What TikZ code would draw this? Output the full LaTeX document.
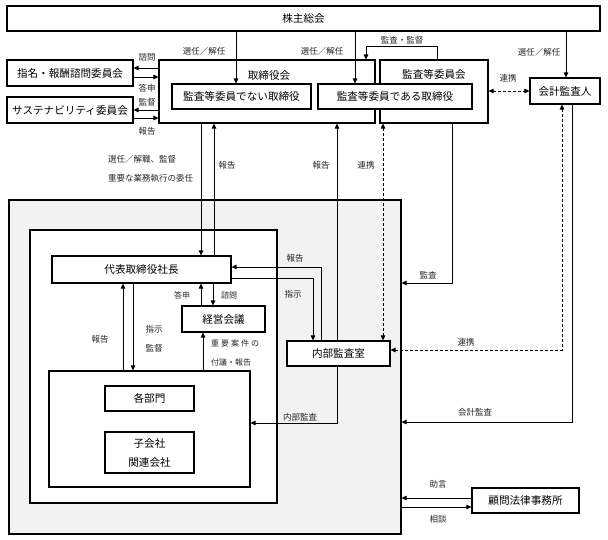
\documentclass[tikz,border=0pt]{standalone}
\usepackage{fontspec}
\setmainfont{Noto Sans CJK JP}
\usetikzlibrary{arrows.meta}
\newcommand{\mainsize}{\fontsize{10.6pt}{13pt}\selectfont}
\newcommand{\lblsize}{\fontsize{8.5pt}{10pt}\selectfont}
\newcommand{\smlsize}{\fontsize{8pt}{10pt}\selectfont}
\definecolor{bggray}{HTML}{F2F2F2}
\tikzset{
  box/.style={draw, line width=1.1pt, fill=white, inner sep=0pt, font=\mainsize},
  txt/.style={inner sep=0pt, font=\mainsize},
  lbl/.style={inner sep=0pt, font=\lblsize, text=black!85},
  sml/.style={inner sep=0pt, font=\smlsize, text=black!85},
  arr/.style={line width=0.9pt, -{Triangle[length=5pt,width=4.5pt]}},
  darr/.style={line width=0.9pt, dash pattern=on 3pt off 2pt,
    {Triangle[length=5pt,width=4.5pt]}-{Triangle[length=5pt,width=4.5pt]}},
}
\begin{document}
\begin{tikzpicture}[x=1pt,y=-1pt]
\useasboundingbox (0,0) rectangle (608,539);
% helper coordinates
\foreach \v in {236,355,566,437,366,201,214,337,383,452,562,572,321,313,203,213,123,133}{\coordinate (x\v) at (\v,0);}
\foreach \v in {68,77,110,118,91,283,350,422,498,507,267,278,423}{\coordinate (y\v) at (0,\v);}

% big grey area and inner white area
\node[draw, line width=1.1pt, fill=bggray, inner sep=0pt, minimum width=392pt, minimum height=334pt] (gray) at (205,367) {};
\node[box, minimum width=247pt, minimum height=273pt] (white) at (153.5,366.5) {};

% top boxes
\node[box, minimum width=593pt, minimum height=25pt] (kabu) at (303.5,18.5) {株主総会};
\node[box, minimum width=126pt, minimum height=26pt] (shimei) at (70,73) {指名・報酬諮問委員会};
\node[box, minimum width=126pt, minimum height=26pt] (sus) at (70,110) {サステナビリティ委員会};
\node[box, minimum width=216pt, minimum height=63pt] (tb) at (267,91.5) {};
\node[box, minimum width=108pt, minimum height=63pt] (kiic) at (434,91.5) {};
\node[txt] (tbl) at (269,75) {取締役会};
\node[txt] (kiicl) at (434,74) {監査等委員会};
\node[box, minimum width=139pt, minimum height=25pt] (nai) at (241.5,96.5) {監査等委員でない取締役};
\node[box, minimum width=154pt, minimum height=25pt] (dearu) at (395,96.5) {監査等委員である取締役};
\node[box, minimum width=70pt, minimum height=26pt] (kaikei) at (565,91) {会計監査人};

% inner boxes
\node[box, minimum width=179pt, minimum height=27pt] (daihyo) at (141.5,269.5) {代表取締役社長};
\node[box, minimum width=83pt, minimum height=26pt] (keiei) at (223.5,319) {経営会議};
\node[box, minimum width=201pt, minimum height=116pt] (dept) at (149.5,429) {};
\node[box, minimum width=89pt, minimum height=25pt] (kakubu) at (149.5,398.5) {各部門};
\node[box, minimum width=89pt, minimum height=41pt, align=center, font=\fontsize{10.6pt}{19pt}\selectfont] (kogaisha) at (149.5,452.5) {子会社\\関連会社};
\node[box, minimum width=103pt, minimum height=25pt] (naibu) at (338.5,353.5) {内部監査室};
\node[box, minimum width=107pt, minimum height=25pt] (komon) at (525.5,500.5) {顧問法律事務所};

% connectors from shareholders
\draw[arr] (kabu.south -| x236) -- (nai.north -| x236);
\draw[arr] (kabu.south -| x355) -- (dearu.north -| x355);
\draw[arr] (kabu.south -| x566) -- (kaikei.north -| x566);
\draw[arr] (kiic.north -| x437) -- ++(0,-13) -| (tb.north -| x366);

% committees
\draw[arr] (tb.west |- y68) -- (shimei.east |- y68);
\draw[arr] (shimei.east |- y77) -- (tb.west |- y77);
\draw[arr] (tb.west |- y110) -- (sus.east |- y110);
\draw[arr] (sus.east |- y118) -- (tb.west |- y118);

% board <-> president
\draw[arr] (tb.south -| x201) -- (daihyo.north -| x201);
\draw[arr] (daihyo.north -| x214) -- (tb.south -| x214);
\draw[arr] (naibu.north -| x337) -- (tb.south -| x337);
\draw[darr] (naibu.north -| x383) -- (kiic.south -| x383);
\draw[arr] (kiic.south -| x452) |- (gray.east |- y283);
\draw[darr] (kaikei.south -| x562) |- (naibu.east |- y350);
\draw[arr] (kaikei.south -| x572) |- (gray.east |- y422);
\draw[darr] (kiic.east |- y91) -- (kaikei.west |- y91);
\draw[arr] (komon.west |- y498) -- (gray.east |- y498);
\draw[arr] (gray.east |- y507) -- (komon.west |- y507);
\draw[arr] (naibu.north -| x321) |- (daihyo.east |- y267);
\draw[arr] (daihyo.east |- y278) -| (naibu.north -| x313);
\draw[arr] (keiei.north -| x201) -- (daihyo.south -| x201);
\draw[arr] (daihyo.south -| x213) -- (keiei.north -| x213);
\draw[arr] (dept.north -| x203) -- (keiei.south -| x203);
\draw[arr] (dept.north -| x123) -- (daihyo.south -| x123);
\draw[arr] (daihyo.south -| x133) -- (dept.north -| x133);
\draw[arr] (naibu.south -| x337) |- (dept.east |- y423);

% labels
\node[lbl] (l1) at (204,51) {選任／解任};
\node[lbl] (l2) at (322,51) {選任／解任};
\node[lbl] (l3) at (539,52) {選任／解任};
\node[lbl] (l4) at (402,40) {監査・監督};
\node[lbl] (l5) at (147,57) {諮問};
\node[lbl] (l6) at (147,88) {答申};
\node[lbl] (l7) at (147,102) {監督};
\node[lbl] (l8) at (147,131) {報告};
\node[lbl, anchor=west] (l9) at (108,159) {選任／解職、監督};
\node[lbl, anchor=west] (l10) at (108,178) {重要な業務執行の委任};
\node[lbl] (l11) at (227,165) {報告};
\node[lbl] (l12) at (321,165) {報告};
\node[lbl] (l13) at (366,165) {連携};
\node[lbl] (l14) at (508,78) {連携};
\node[lbl] (l15) at (295,258) {報告};
\node[lbl] (l16) at (293,294) {指示};
\node[lbl] (l17) at (428,275) {監査};
\node[sml] (l18) at (182,295) {答申};
\node[sml] (l19) at (229,295) {諮問};
\node[lbl] (l20) at (100,339) {報告};
\node[lbl] (l21) at (154,329) {指示};
\node[lbl] (l22) at (154,348) {監督};
\node[sml, anchor=west] (l23) at (211,343) {重\kern2pt 要\kern2pt 案\kern2pt 件\kern2pt の};
\node[sml, anchor=west] (l24) at (211,362) {付議・報告};
\node[lbl] (l25) at (466,342) {連携};
\node[lbl] (l26) at (300,417) {内部監査};
\node[lbl] (l27) at (475,412) {会計監査};
\node[lbl] (l28) at (438,484) {助言};
\node[lbl] (l29) at (438,519) {相談};
\end{tikzpicture}
\end{document}
